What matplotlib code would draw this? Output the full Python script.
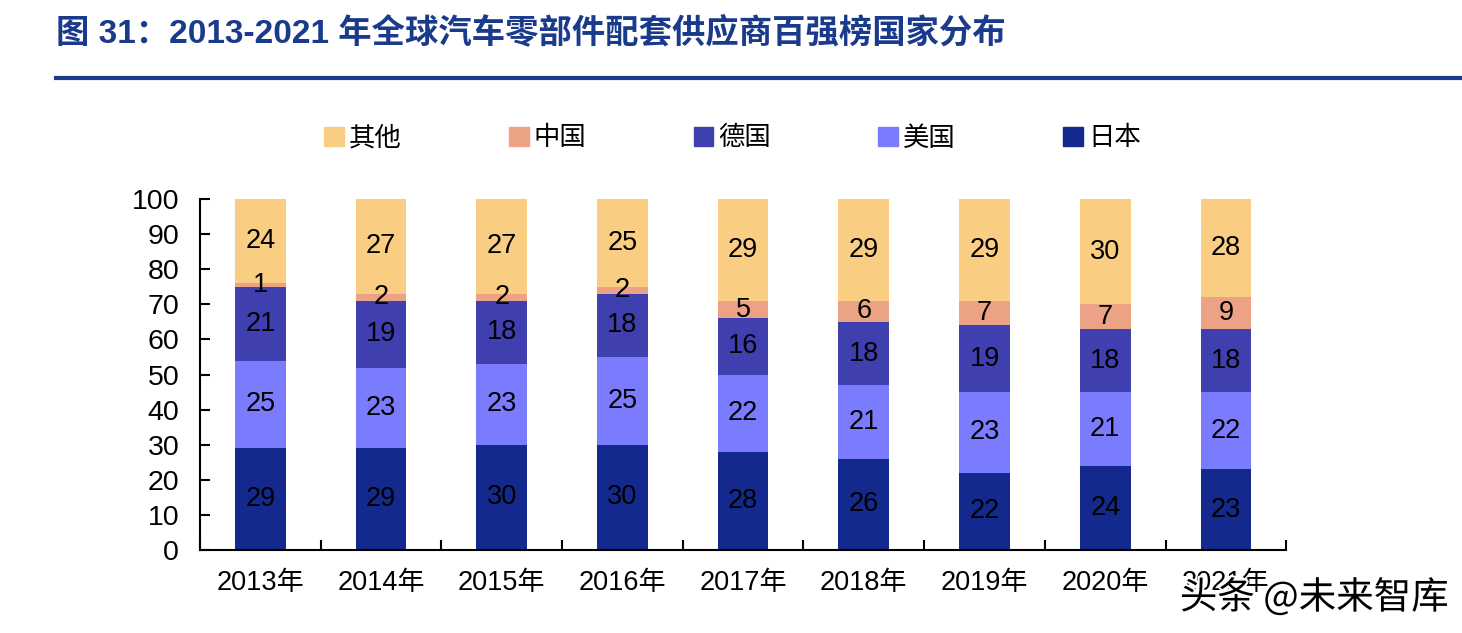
import matplotlib
matplotlib.use("Agg")
import matplotlib.pyplot as plt
import matplotlib.patheffects as pe
from matplotlib.patches import Patch
import numpy as np

plt.rcParams['font.family'] = ['Liberation Sans', 'Noto Sans CJK SC', 'DejaVu Sans']

years = ['2013年', '2014年', '2015年', '2016年', '2017年', '2018年', '2019年', '2020年', '2021年']
japan = [29, 29, 30, 30, 28, 26, 22, 24, 23]
usa = [25, 23, 23, 25, 22, 21, 23, 21, 22]
germany = [21, 19, 18, 18, 16, 18, 19, 18, 18]
china = [1, 2, 2, 2, 5, 6, 7, 7, 9]
other = [24, 27, 27, 25, 29, 29, 29, 30, 28]

series = [('日本', japan, '#13298e'),
          ('美国', usa, '#7b7bfd'),
          ('德国', germany, '#3f3fb0'),
          ('中国', china, '#eba285'),
          ('其他', other, '#f9cd82')]

fig = plt.figure(figsize=(14.62, 6.33), dpi=100)
ax = fig.add_axes([0.1368, 0.131, 0.743, 0.5545])

x = np.arange(len(years))
bottom = np.zeros(len(years))
for name, vals, col in series:
    vals = np.array(vals, dtype=float)
    ax.bar(x, vals, 0.42, bottom=bottom, color=col, label=name)
    # value labels in the middle of each segment
    for xi, b, v in zip(x, bottom, vals):
        ax.text(xi, b + v / 2, f'{int(v)}', ha='center', va='center',
                fontsize=19.5, color='black')
    bottom += vals

ax.set_xlim(-0.5, len(years) - 0.5)
ax.set_ylim(0, 100)
ax.set_yticks(range(0, 101, 10))
ax.set_xticks(x)
ax.set_xticklabels(years, fontsize=19.5)
ax.set_xticks(np.arange(-0.5, len(years) + 0.5, 1), minor=True)
ax.tick_params(axis='x', which='major', length=0, pad=14)
ax.tick_params(axis='x', which='minor', direction='in', length=7, width=1.5)
ax.tick_params(axis='y', direction='in', length=7, width=1.5, labelsize=20.5, pad=15)
for s in ['top', 'right']:
    ax.spines[s].set_visible(False)
for s in ['left', 'bottom']:
    ax.spines[s].set_linewidth(1.5)

handles = [Patch(color=c, label=n) for n, _, c in series[::-1]]
fig.legend(handles=handles, loc='center', bbox_to_anchor=(0.501, 0.782), ncol=5,
           frameon=False, handlelength=0.75, handleheight=0.75,
           handletextpad=0.2, columnspacing=4.05,
           prop={'family': ['Noto Sans CJK SC'], 'size': 19})

fig.text(0.038, 0.948, '图 31：2013-2021 年全球汽车零部件配套供应商百强榜国家分布',
         fontsize=24, fontweight='bold', color='#1a3a8c', va='center',
         family=['Liberation Sans', 'Noto Sans CJK SC'])
fig.add_artist(plt.Line2D([0.038, 1.0], [0.876, 0.876], color='#1a3a8c', lw=3))

# watermark
fig.text(0.807, 0.055, '头条 @未来智库', fontsize=27, color='black', va='center',
         family=['Noto Sans CJK SC'],
         path_effects=[pe.withStroke(linewidth=3, foreground='white')])

fig.savefig('out.png', dpi=100)
